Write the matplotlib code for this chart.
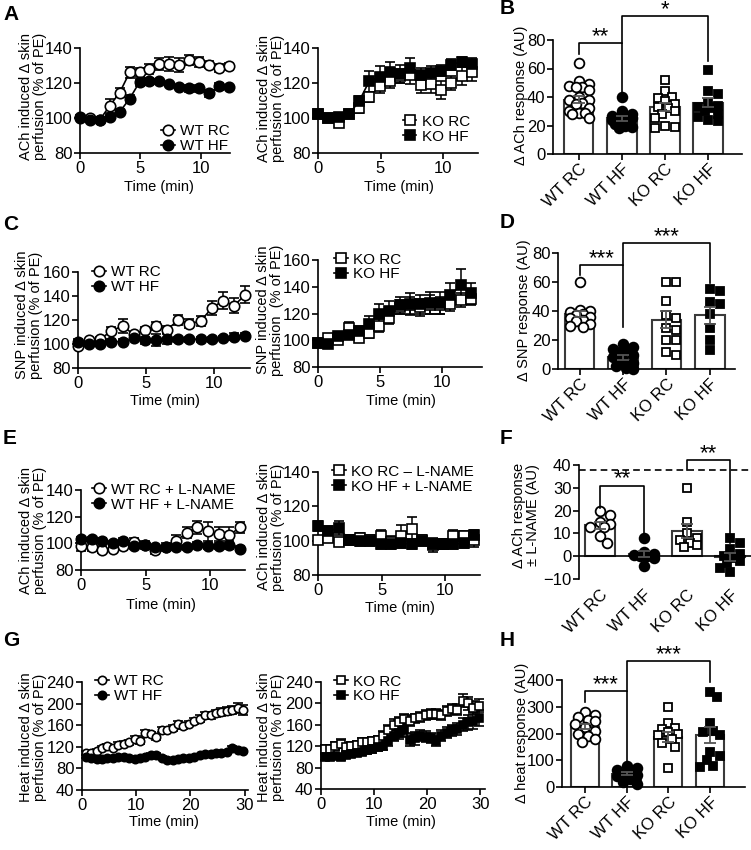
import numpy as np
import matplotlib
matplotlib.use("Agg")
import matplotlib.pyplot as plt
from matplotlib.lines import Line2D

plt.rcParams['font.family'] = ['Liberation Sans', 'DejaVu Sans']

# ---- time axes ----
t_short = [0, 0.82, 1.64, 2.46, 3.28, 4.1, 4.92, 5.74, 6.56, 7.38, 8.2, 9.02, 9.84, 10.66, 11.48, 12.3]
t_heat = [0.7, 1.7, 2.7, 3.7, 4.7, 5.7, 6.7, 7.7, 8.7, 9.7, 10.7, 11.7, 12.7, 13.7, 14.7,
          15.7, 16.7, 17.7, 18.7, 19.7, 20.7, 21.7, 22.7, 23.7, 24.7, 25.7, 26.7, 27.7, 28.7, 29.7]

# ---- A: ACh ----
ach_wt_rc = [100.5, 100, 99, 107, 114.5, 126, 126, 128, 131, 131, 130, 133, 132, 130.5, 128.5, 129.5]
ach_wt_rc_err = [1, 1, 1.5, 4, 2.5, 3, 2.5, 3, 3.5, 4, 4, 3, 3, 2, 2.5, 2]
ach_wt_hf = [100, 99, 99, 100.5, 103.5, 111, 120.5, 121, 121, 119.5, 117.5, 117, 117, 114, 118, 117.5]
ach_wt_hf_err = [1, 1, 1, 1, 1.5, 2, 2, 2, 1.5, 1, 1, 2, 2, 2, 2, 1]
ach_ko_rc = [102.5, 100, 97, 102, 105.5, 112, 118, 121, 124, 124.5, 119, 119.5, 116, 120, 124, 126]
ach_ko_rc_err = [2, 1.5, 2, 2, 2.5, 3, 4, 4, 4, 5, 5, 5, 5, 4, 5, 5]
ach_ko_hf = [102.5, 100, 100.5, 102, 109.5, 121, 123.5, 126, 125, 128.5, 124.5, 125.5, 127, 130.5, 132, 131]
ach_ko_hf_err = [2, 1.5, 1.5, 2, 3, 6, 6, 6, 5, 6, 4, 4, 3, 3, 3, 3]

# ---- C: SNP ----
snp_wt_rc = [98, 103, 104, 111, 115, 108, 112, 115, 112, 120, 117, 119, 130, 136, 132, 141]
snp_wt_rc_err = [1.5, 1, 2, 3, 6, 2, 2, 3, 3, 4, 4, 4, 6, 7, 6, 7]
snp_wt_hf = [102, 100, 100, 102, 102, 105, 103, 103, 104, 104, 104, 104, 104, 105, 106, 107]
snp_wt_hf_err = [2, 2, 2, 2, 2, 2, 3, 5, 4, 2, 2, 2, 2, 2, 3, 2]
snp_ko_rc = [98, 102, 100, 109, 102, 105.5, 111, 117, 125, 126, 124.5, 126.5, 126, 127, 130, 130.5]
snp_ko_rc_err = [2, 2, 2, 5, 3, 4, 5, 5, 5, 6, 6, 7, 6, 5, 5, 4]
snp_ko_hf = [98, 97, 103, 104, 107, 112, 120, 122, 126, 127, 127, 128, 128, 134, 141, 135]
snp_ko_hf_err = [2, 2, 2, 3, 4, 6, 7, 7, 6, 8, 7, 8, 8, 9, 12, 8]

# ---- E: ACh + L-NAME ----
ln_wt_rc = [98, 97, 95, 96, 98, 101, 99, 95, 97, 102, 108, 112, 109, 107, 106, 112]
ln_wt_rc_err = [4, 3, 2, 2, 3, 3, 3, 3, 3, 4, 4, 5, 7, 5, 6, 4]
ln_wt_hf = [103, 103, 102, 100, 102, 98, 99, 97, 97, 97, 97, 99, 98, 98, 99, 96]
ln_wt_hf_err = [2, 2, 2, 2, 2, 2, 2, 2, 2, 2, 2, 2, 2, 2, 3, 2]
ln_ko_rc = [100.5, 101.5, 99, 100.5, 101.5, 100.5, 102.5, 99.5, 103, 107, 100.5, 97.5, 98, 102.5, 102.5, 100.5]
ln_ko_rc_err = [2, 2, 2, 3, 3, 3, 4, 3, 6, 7, 3, 4, 3, 4, 3, 4]
ln_ko_hf = [108.5, 105.5, 107.5, 100.5, 100, 100, 98, 98, 98.5, 98, 100, 98, 98, 98, 98.5, 103.5]
ln_ko_hf_err = [3, 3, 4, 3, 3, 3, 3, 3, 3, 3, 3, 3, 3, 3, 3, 3]

# ---- G: heat ----
heat_wt_rc = [108, 108, 112, 118, 122, 118, 124, 126, 128, 135, 130, 146, 143, 138, 152,
              152, 155, 162, 158, 163, 168, 172, 178, 178, 182, 184, 186, 188, 192, 188]
heat_wt_rc_err = [4, 4, 4, 4, 4, 4, 4, 4, 5, 5, 5, 6, 5, 5, 5,
                  5, 5, 5, 5, 5, 6, 6, 6, 6, 6, 7, 7, 8, 9, 10]
heat_wt_hf = [102, 100, 98, 98, 100, 100, 102, 102, 100, 98, 100, 102, 105, 105, 100,
              95, 96, 98, 100, 100, 102, 104, 106, 106, 108, 108, 110, 118, 115, 112]
heat_wt_hf_err = [3] * 30
heat_ko_rc = [115, 115, 120, 125, 118, 120, 122, 128, 128, 130, 132, 140, 150, 160, 165,
              170, 168, 172, 175, 178, 180, 180, 178, 186, 190, 188, 205, 200, 192, 196]
heat_ko_rc_err = [8, 8, 8, 8, 8, 8, 8, 8, 8, 8, 8, 9, 10, 10, 10,
                  10, 10, 9, 9, 9, 9, 9, 9, 9, 9, 10, 12, 12, 12, 12]
heat_ko_hf = [100, 100, 102, 100, 104, 106, 108, 110, 112, 115, 118, 120, 130, 140, 145,
              150, 132, 135, 140, 138, 135, 130, 140, 145, 150, 152, 160, 165, 168, 172]
heat_ko_hf_err = [6, 6, 6, 6, 6, 6, 6, 6, 7, 7, 7, 8, 9, 10, 12,
                  12, 12, 12, 10, 10, 9, 9, 10, 10, 10, 11, 12, 14, 15, 15]

# ---- bar panels ----
groups = ["WT RC", "WT HF", "KO RC", "KO HF"]

b_wt_rc = [64, 51, 49, 48, 47, 47, 45, 40, 38, 38, 36, 35, 32, 30, 29, 29, 28, 25]
b_wt_hf = [40, 30, 28, 27, 26, 25, 25, 24, 23, 22, 21, 20, 19, 18]
b_ko_rc = [52, 44, 40, 39, 37, 35, 33, 32, 30, 28, 25, 20, 19, 18]
b_ko_hf = [59, 44, 42, 36, 34, 33, 32, 30, 28, 26, 24, 23]
b_mean = [38, 25, 33, 36]
b_sem = [2.5, 1.5, 2.5, 3]

d_wt_rc = [60, 41, 40, 39, 38, 37, 36, 35, 34, 33, 31, 30, 29]
d_wt_hf = [17, 15, 14, 13, 12, 10, 8, 6, 4, 2, 1, 0]
d_ko_rc = [60, 60, 47, 37, 35, 28, 27, 20, 20, 12, 10]
d_ko_hf = [54, 55, 45, 46, 38, 28, 20, 13]
d_mean = [38, 8, 34, 37]
d_sem = [2, 1.5, 6, 6]

f_wt_rc = [20, 18, 15, 14, 13, 13, 9, 6]
f_wt_hf = [8, 2, 1, 0.5, 0, 0, -1, -4.5]
f_ko_rc = [30, 15, 10, 8, 7, 6, 5, 4]
f_ko_hf = [8, 6, 3, 1, 0, -1, -2, -3, -5, -7]
f_mean = [13.5, 0.8, 11, -0.5]
f_sem = [1.7, 1.3, 3, 1.8]
f_ref = 37.8

h_wt_rc = [280, 270, 260, 250, 245, 235, 225, 210, 200, 190, 180, 170]
h_wt_hf = [80, 70, 65, 60, 50, 45, 40, 30, 20, 10]
h_ko_rc = [300, 240, 220, 215, 205, 200, 195, 180, 165, 150, 70]
h_ko_hf = [355, 335, 240, 210, 205, 195, 130, 115, 100, 80, 75]
h_mean = [225, 50, 187, 195]
h_sem = [10, 7, 18, 30]

W, H = 751, 850
FS = 10.5     # axis labels
LFS = 11      # legends
TFS = 12      # tick labels
fig = plt.figure(figsize=(W / 100, H / 100), dpi=100)


def make_axes(x0, y0, x1, y1):
    ax = fig.add_axes([x0 / W, 1 - y1 / H, (x1 - x0) / W, (y1 - y0) / H])
    ax.spines[['top', 'right']].set_visible(False)
    for s in ['left', 'bottom']:
        ax.spines[s].set_linewidth(1.2)
    ax.tick_params(width=1.2, length=4, labelsize=TFS, pad=1.5)
    return ax


def ftext(x, y, s, **kw):
    fig.text(x / W, 1 - y / H, s, fontsize=FS, **kw)


def ylab(x, y, s):
    ftext(x, y, s, rotation=90, ha='center', va='center', multialignment='center', linespacing=0.95)


def series(ax, t, y, err, marker, filled, ms):
    ax.errorbar(t, y, yerr=err, fmt='-', color='k', lw=1.2, elinewidth=1.1, capsize=3.5, capthick=1.1,
                marker=marker, ms=ms, mfc='k' if filled else 'w', mec='k', mew=1.2,
                clip_on=False, zorder=3)


def handle(marker, filled, ms):
    return Line2D([0], [0], color='k', lw=1.2, marker=marker, ms=ms,
                  mfc='k' if filled else 'w', mec='k', mew=1.2)


def time_panel(box, t, data, xlim, ylim, yticks, xticks, leg_loc, leg_anchor, ms=7.5):
    ax = make_axes(*box)
    for y, err, marker, filled, label in data:
        series(ax, t, y, err, marker, filled, ms)
    ax.set_xlim(*xlim)
    ax.set_ylim(*ylim)
    ax.set_xticks(xticks)
    ax.set_yticks(yticks)
    hs = [handle(m, f, ms) for _, _, m, f, _ in data]
    ax.legend(hs, [d[4] for d in data], loc=leg_loc, bbox_to_anchor=leg_anchor, frameon=False,
              fontsize=LFS, handlelength=0.9, handletextpad=0.35, labelspacing=0.05,
              borderpad=0, borderaxespad=0)
    return ax


def swarm(ax, x0, vals, d_px, max_off=0.3):
    pos = ax.get_position()
    xl, yl = ax.get_xlim(), ax.get_ylim()
    sx = pos.width * W / (xl[1] - xl[0])
    sy = pos.height * H / (yl[1] - yl[0])
    lim = max_off * sx
    step = d_px * 0.35
    cands = [0.0]
    k = 1
    while k * step <= lim:
        cands += [k * step, -k * step]
        k += 1
    placed = []
    offs = np.zeros(len(vals))
    for i in np.argsort(vals)[::-1]:
        yp = vals[i] * sy
        best, best_d = 0.0, -1
        for c in cands:
            dmin = min([np.hypot(c - px, yp - py) for px, py in placed] or [1e9])
            if dmin >= d_px * 0.85:
                best = c
                break
            if dmin > best_d:
                best, best_d = c, dmin
        placed.append((best, yp))
        offs[i] = best / sx
    return x0 + offs


def bracket(ax, x1, x2, ytop, yl, yr, txt):
    ax.plot([x1, x1, x2, x2], [yl, ytop, ytop, yr], color='k', lw=1.2, clip_on=False, zorder=6)
    ax.annotate(txt, ((x1 + x2) / 2, ytop), xytext=(0, -3), textcoords='offset points',
                ha='center', va='bottom', fontsize=16, annotation_clip=False)


def bar_panel(box, pts, mean, sem, xlim, ylim, yticks, ms=7, d_px=9.5):
    ax = make_axes(*box)
    ax.set_xlim(*xlim)
    ax.set_ylim(*ylim)
    x = np.arange(4)
    ax.bar(x, mean, width=0.68, color='white', edgecolor='#3a3a3a', linewidth=1.5, zorder=2)
    styles = [('o', False), ('o', True), ('s', False), ('s', True)]
    for i, (vals, (m, f)) in enumerate(zip(pts, styles)):
        xs = swarm(ax, i, np.array(vals, float), d_px)
        ax.plot(xs, vals, ls='none', marker=m, ms=ms if m == 'o' else ms * 0.9,
                mfc='k' if f else 'w', mec='k', mew=1.3, zorder=4, clip_on=False)
    ax.errorbar(x, mean, yerr=sem, fmt='none', ecolor='#555555', elinewidth=1.3,
                capsize=4, capthick=1.3, zorder=5)
    ax.set_yticks(yticks)
    ax.set_xticks(x)
    ax.set_xticklabels(groups, rotation=45, ha='right', rotation_mode='anchor')
    return ax


# ---------- A ----------
time_panel((80, 48, 230, 153), t_short,
           [(ach_wt_rc, ach_wt_rc_err, 'o', False, 'WT RC'),
            (ach_wt_hf, ach_wt_hf_err, 'o', True, 'WT HF')],
           (0, 12.4), (80, 140), [80, 100, 120, 140], [0, 5, 10], 'lower right', (1.0, 0.0))
time_panel((318, 48, 478, 153), t_short,
           [(ach_ko_rc, ach_ko_rc_err, 's', False, 'KO RC'),
            (ach_ko_hf, ach_ko_hf_err, 's', True, 'KO HF')],
           (0, 12.8), (80, 140), [80, 100, 120, 140], [0, 5, 10], 'lower right', (0.95, 0.09))

# ---------- B ----------
ax = bar_panel((553, 40, 742, 154), [b_wt_rc, b_wt_hf, b_ko_rc, b_ko_hf], b_mean, b_sem,
               (-0.6, 3.79), (0, 80), [0, 20, 40, 60, 80])
bracket(ax, 0, 1, 78, 70, 42, '**')
bracket(ax, 1, 3, 97, 78, 65, '*')

# ---------- C ----------
time_panel((78, 272, 250, 368), t_short,
           [(snp_wt_rc, snp_wt_rc_err, 'o', False, 'WT RC'),
            (snp_wt_hf, snp_wt_hf_err, 'o', True, 'WT HF')],
           (0, 12.65), (80, 160), [80, 100, 120, 140, 160], [0, 5, 10], 'upper left', (0.08, 1.07))
time_panel((318, 260, 482, 367), t_short,
           [(snp_ko_rc, snp_ko_rc_err, 's', False, 'KO RC'),
            (snp_ko_hf, snp_ko_hf_err, 's', True, 'KO HF')],
           (0, 13.2), (80, 160), [80, 100, 120, 140, 160], [0, 5, 10], 'upper left', (0.1, 1.07))

# ---------- D ----------
ax = bar_panel((558, 253, 735, 369), [d_wt_rc, d_wt_hf, d_ko_rc, d_ko_hf], d_mean, d_sem,
               (-0.5, 3.58), (0, 80), [0, 20, 40, 60, 80])
bracket(ax, 0, 1, 72, 65, 29, '***')
bracket(ax, 1, 3, 87, 72, 59, '***')

# ---------- E ----------
time_panel((81, 490, 245, 570), t_short,
           [(ln_wt_rc, ln_wt_rc_err, 'o', False, 'WT RC + L-NAME'),
            (ln_wt_hf, ln_wt_hf_err, 'o', True, 'WT HF + L-NAME')],
           (0, 12.7), (80, 140), [80, 100, 120, 140], [0, 5, 10], 'upper left', (0.067, 1.09))
time_panel((318, 472, 480, 575), t_short,
           [(ln_ko_rc, ln_ko_rc_err, 's', False, 'KO RC – L-NAME'),
            (ln_ko_hf, ln_ko_hf_err, 's', True, 'KO HF + L-NAME')],
           (0, 12.75), (80, 140), [80, 100, 120, 140], [0, 5, 10], 'upper left', (0.086, 1.07))

# ---------- F ----------
ax = bar_panel((579, 465, 751, 579), [f_wt_rc, f_wt_hf, f_ko_rc, f_ko_hf], f_mean, f_sem,
               (-0.49, 3.48), (-10, 40), [-10, 0, 10, 20, 30, 40])
ax.spines['bottom'].set_visible(False)
ax.tick_params(axis='x', length=0, pad=6)
ax.axhline(0, color='k', lw=1.2, zorder=3)
ax.plot([-0.49, 3.48], [f_ref, f_ref], color='k', lw=1.2, ls=(0, (4, 2.5)), clip_on=False)
bracket(ax, 0, 1, 31, 21, 6.5, '**')
bracket(ax, 2, 3, 42, f_ref, 5.7, '**')

# ---------- G ----------
time_panel((82, 682, 248, 790), t_heat,
           [(heat_wt_rc, heat_wt_rc_err, 'o', False, 'WT RC'),
            (heat_wt_hf, heat_wt_hf_err, 'o', True, 'WT HF')],
           (0, 30.6), (40, 240), [40, 80, 120, 160, 200, 240], [0, 10, 20, 30],
           'upper left', (0.08, 1.07), ms=6)
time_panel((321, 682, 485, 789), t_heat,
           [(heat_ko_rc, heat_ko_rc_err, 's', False, 'KO RC'),
            (heat_ko_hf, heat_ko_hf_err, 's', True, 'KO HF')],
           (0, 30.9), (40, 240), [40, 80, 120, 160, 200, 240], [0, 10, 20, 30],
           'upper left', (0.08, 1.07), ms=6)

# ---------- H ----------
ax = bar_panel((562, 680, 745, 787), [h_wt_rc, h_wt_hf, h_ko_rc, h_ko_hf], h_mean, h_sem,
               (-0.55, 3.84), (0, 400), [0, 100, 200, 300, 400])
bracket(ax, 0, 1, 360, 319, 69, '***')
bracket(ax, 1, 3, 472, 360, 394, '***')

# ---------- labels ----------
ach = "ACh induced Δ skin\nperfusion (% of PE)"
ylab(33, 96, ach)
ylab(271, 98, ach)
ylab(521, 95, "Δ ACh response (AU)")
ylab(29, 315, "SNP induced Δ skin\nperfusion (% of PE)")
ylab(270, 310, "SNP induced Δ skin\nperfusion  (% of PE)")
ylab(524, 310, "Δ SNP response (AU)")
ylab(33, 530, ach)
ylab(271, 527, ach)
ylab(526, 515, "Δ ACh response\n± L-NAME (AU)")
ylab(33, 737, "Heat induced Δ skin\nperfusion (% of PE)")
ylab(271, 737, "Heat induced Δ skin\nperfusion (% of PE)")
ylab(522, 733, "Δ heat response (AU)")

for x, y in [(159, 187), (399, 187), (165, 401), (401, 401), (161, 605), (400, 608), (164, 822), (401, 822)]:
    ftext(x, y, "Time (min)", ha='center', va='center')

for s, x, y in [("A", 3, 14), ("B", 500, 9), ("C", 3, 224), ("D", 500, 223),
                ("E", 3, 439), ("F", 500, 439), ("G", 3, 641), ("H", 500, 641)]:
    fig.text(x / W, 1 - y / H, s, fontsize=15, fontweight='bold', ha='left', va='center')

fig.savefig("out.png", dpi=100)
